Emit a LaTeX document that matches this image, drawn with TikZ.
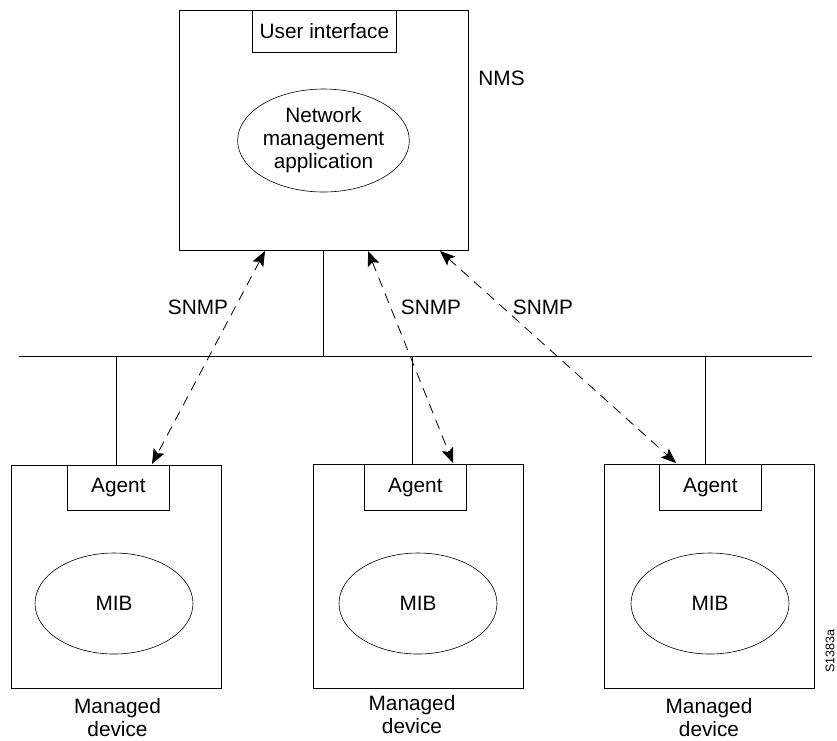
\documentclass[tikz,border=0pt]{standalone}
\usepackage{fontspec}
\setmainfont{Liberation Sans}
\usetikzlibrary{shapes.geometric,arrows.meta}
\begin{document}
\begin{tikzpicture}[x=1pt,y=-1pt,
  line width=0.8pt,
  every node/.style={font=\fontsize{20.8}{23}\selectfont, inner sep=0pt},
  boxnode/.style={draw, rectangle, anchor=north west},
  ellnode/.style={draw, ellipse, line width=0.6pt, align=center},
  lbl/.style={align=center},
  snmp/.style={dash pattern=on 10pt off 7pt, line width=0.8pt,
    {Stealth[length=15pt,width=12pt,inset=3pt]}-{Stealth[length=15pt,width=12pt,inset=3pt]}}]
\useasboundingbox (0,0) rectangle (837,740);
% NMS
\node[boxnode, minimum width=289pt, minimum height=240pt] (nms) at (179,10) {};
\node[boxnode, minimum width=144pt, minimum height=42pt] (ui) at (252,10) {User interface};
\node[ellnode, minimum width=159pt, minimum height=103pt] (nma) at (323.5,140.5) {Network\\management\\application};
\node[anchor=west] (nmslbl) at (478,78) {NMS};
% bus
\coordinate (busL) at (19,356);
\coordinate (busR) at (812,356);
\draw (busL) -- (busR);
\coordinate (tn) at (323,356);
\draw (tn |- nms.south) -- (tn);
% devices
\node[boxnode, minimum width=210pt, minimum height=223pt] (dev1) at (11,465) {};
\node[boxnode, minimum width=102pt, minimum height=45pt] (ag1) at (67,465) {Agent};
\node[ellnode, minimum width=158pt, minimum height=101pt] (mib1) at (114,603.5) {MIB};
\node[lbl] (md1) at (117.5,717.5) {Managed\\device};

\node[boxnode, minimum width=210pt, minimum height=224pt] (dev2) at (313,464) {};
\node[boxnode, minimum width=102pt, minimum height=46pt] (ag2) at (364,464) {Agent};
\node[ellnode, minimum width=158pt, minimum height=101pt] (mib2) at (418,603.5) {MIB};
\node[lbl] (md2) at (412,715) {Managed\\device};

\node[boxnode, minimum width=210pt, minimum height=224pt] (dev3) at (604,464) {};
\node[boxnode, minimum width=102pt, minimum height=46pt] (ag3) at (659,464) {Agent};
\node[ellnode, minimum width=158pt, minimum height=101pt] (mib3) at (710,603.5) {MIB};
\node[lbl] (md3) at (709,717.5) {Managed\\device};

\coordinate (t1) at (116,356);
\coordinate (t2) at (412,356);
\coordinate (t3) at (705,356);
\draw (t1) -- (t1 |- dev1.north);
\draw (t2) -- (t2 |- dev2.north);
\draw (t3) -- (t3 |- dev3.north);
% SNMP arrows
\coordinate (a1t) at (265,251);
\coordinate (a1b) at (152,464);
\coordinate (a2t) at (368,251);
\coordinate (a2b) at (453,463);
\coordinate (a3t) at (440,251);
\coordinate (a3b) at (676,463);
\draw[snmp] (a1t) -- (a1b);
\draw[snmp] (a2t) -- (a2b);
\draw[snmp] (a3t) -- (a3b);
\node (s1) at (198,307) {SNMP};
\node (s2) at (431,307) {SNMP};
\node (s3) at (543,307) {SNMP};
% figure id
\node[rotate=90, font=\fontsize{12.5}{14}\selectfont] (fid) at (830,651) {S1383a};
\end{tikzpicture}
\end{document}
